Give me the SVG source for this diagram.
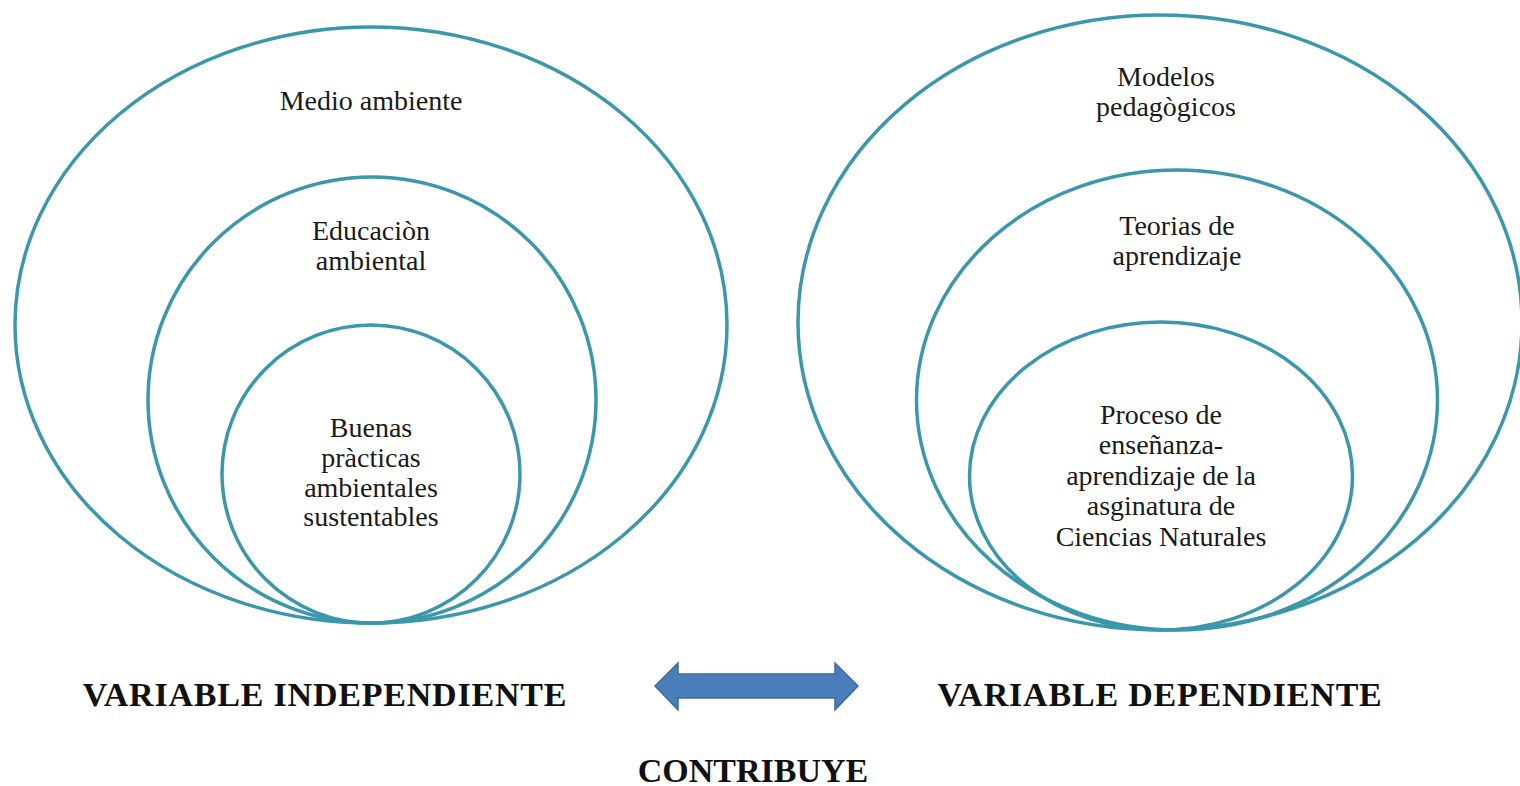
<svg xmlns="http://www.w3.org/2000/svg" width="1520" height="786" viewBox="0 0 1520 786">
<style>
.ring{fill:none;stroke:#3b97ac;stroke-width:3.5}
.t{font-family:"Liberation Serif","Times New Roman",serif;font-size:28px;fill:#1a1a1a;text-anchor:middle}
.b{font-family:"Liberation Serif","Times New Roman",serif;font-size:34px;font-weight:bold;fill:#111;text-anchor:middle}
.ls{letter-spacing:0.8px}
</style>
<rect width="1520" height="786" fill="#ffffff"/>
<g id="medio-ambiente">
<ellipse class="ring" cx="371" cy="325" rx="356" ry="298"/>
<text class="t" x="371" y="110">Medio ambiente</text>
</g>
<g id="educacion-ambiental">
<ellipse class="ring" cx="372" cy="400" rx="224" ry="223"/>
<text class="t" x="371" y="240">Educaciòn</text>
<text class="t" x="371" y="270">ambiental</text>
</g>
<g id="buenas-practicas">
<ellipse class="ring" cx="371" cy="474" rx="149" ry="149"/>
<text class="t" x="371" y="437">Buenas</text>
<text class="t" x="371" y="467">pràcticas</text>
<text class="t" x="371" y="497">ambientales</text>
<text class="t" x="371" y="526">sustentables</text>
</g>
<g id="modelos-pedagogicos">
<ellipse class="ring" cx="1160" cy="322.5" rx="362" ry="307.5"/>
<text class="t" x="1166" y="86">Modelos</text>
<text class="t" x="1166" y="116">pedagògicos</text>
</g>
<g id="teorias-aprendizaje">
<ellipse class="ring" cx="1177" cy="400" rx="260.5" ry="230"/>
<text class="t" x="1177" y="235">Teorias de</text>
<text class="t" x="1177" y="265">aprendizaje</text>
</g>
<g id="proceso-ensenanza">
<ellipse class="ring" cx="1161" cy="476" rx="191.5" ry="154"/>
<text class="t" x="1161" y="424">Proceso de</text>
<text class="t" x="1161" y="454">enseñanza-</text>
<text class="t" x="1161" y="485">aprendizaje de la</text>
<text class="t" x="1161" y="515">asginatura de</text>
<text class="t" x="1161" y="546">Ciencias Naturales</text>
</g>
<g id="connectors">
<path d="M655,686 L678,663 L678,674 L835,674 L835,663 L858,686 L835,710 L835,698 L678,698 L678,710 Z" fill="#4a7ebb" stroke="#3d6ba3" stroke-width="1.5"/>
</g>
<g id="labels">
<text class="b ls" x="325" y="706">VARIABLE INDEPENDIENTE</text>
<text class="b ls" x="1160" y="706">VARIABLE DEPENDIENTE</text>
<text class="b" x="753" y="782">CONTRIBUYE</text>
</g>
</svg>
